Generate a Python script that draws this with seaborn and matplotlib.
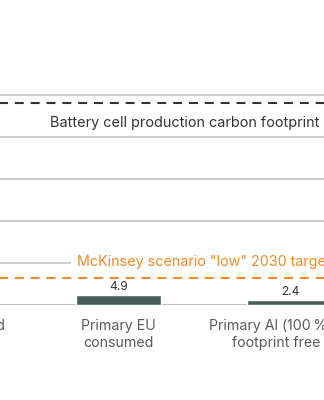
import matplotlib
matplotlib.use("Agg")
import matplotlib.pyplot as plt
import matplotlib.transforms as mtransforms
import seaborn as sns
import pandas as pd

# ---- data ----
categories = ["Primary imported\nnon-EU", "Primary EU\nconsumed", "Primary Al (100\u202f% green\nfootprint free EU)"]
values = [16.5, 4.9, 2.4]
gridline_values = [20, 40, 60, 80, 100]
battery_footprint = 96.2
mckinsey_target = 12.7
battery_label = "Battery cell production carbon footprint"
target_label = 'McKinsey scenario "low" 2030 target'

# ---- style ----
sns.set_theme(style="white")
plt.rcParams['font.family'] = ['Inter', 'DejaVu Sans']

bar_color = "#4A5E59"
grid_color = "#C9CFCD"
base_color = "#B9C3BF"
orange = "#F28A2B"
dark = "#333333"
label_grey = "#5A5A5A"

df = pd.DataFrame({"category": categories, "value": values})

W, H = 324, 400
left_px = -70  # axes extends beyond the left edge of the figure (cropped view)
fig = plt.figure(figsize=(W / 100, H / 100), dpi=100)
ax = fig.add_axes([left_px / W, (H - 305) / H, (W - left_px) / W, 305 / H])

sns.barplot(data=df, x="category", y="value", order=categories, width=0.5,
            color=bar_color, saturation=1, ax=ax, zorder=3)

unit = 171.5  # px per category
x0 = 1 - (118.5 - left_px) / unit
ax.set_ylim(0, 305 / 2.1)
ax.set_xlim(x0, x0 + (W - left_px) / unit)

ax.set_yticks(gridline_values)
ax.set_yticklabels([])
ax.tick_params(axis="y", length=0)
for g in gridline_values:
    ax.axhline(g, color=grid_color, lw=1.5, zorder=1)
ax.axhline(0, color=base_color, lw=2.2, zorder=2)

for s in ax.spines.values():
    s.set_visible(False)

ax.set_xlabel("")
ax.set_ylabel("")
ax.tick_params(axis="x", length=0, pad=10, labelsize=10.2, labelcolor=label_grey)
for lbl in ax.get_xticklabels():
    lbl.set_linespacing(1.25)

ax.bar_label(ax.containers[0], fmt="%.1f", padding=1.5, fontsize=8.6, color=dark)

ax.axhline(battery_footprint, color="#333333", lw=1.5, ls=(0, (4.3, 3.3)), zorder=4)
ax.axhline(mckinsey_target, color=orange, lw=1.5, ls=(0, (4.3, 3.3)), zorder=4)

trans = mtransforms.blended_transform_factory(fig.transFigure, ax.transData)
ax.text(319 / W, 86.6, battery_label, transform=trans,
        ha="right", va="center", fontsize=10.4, color=dark, zorder=5)
ax.text(77 / W, 20.7, target_label, transform=trans,
        ha="left", va="center", fontsize=10.3, color=orange, zorder=5,
        bbox=dict(boxstyle="square,pad=0.45", fc="white", ec="none"))

fig.savefig("out.png", dpi=100)
